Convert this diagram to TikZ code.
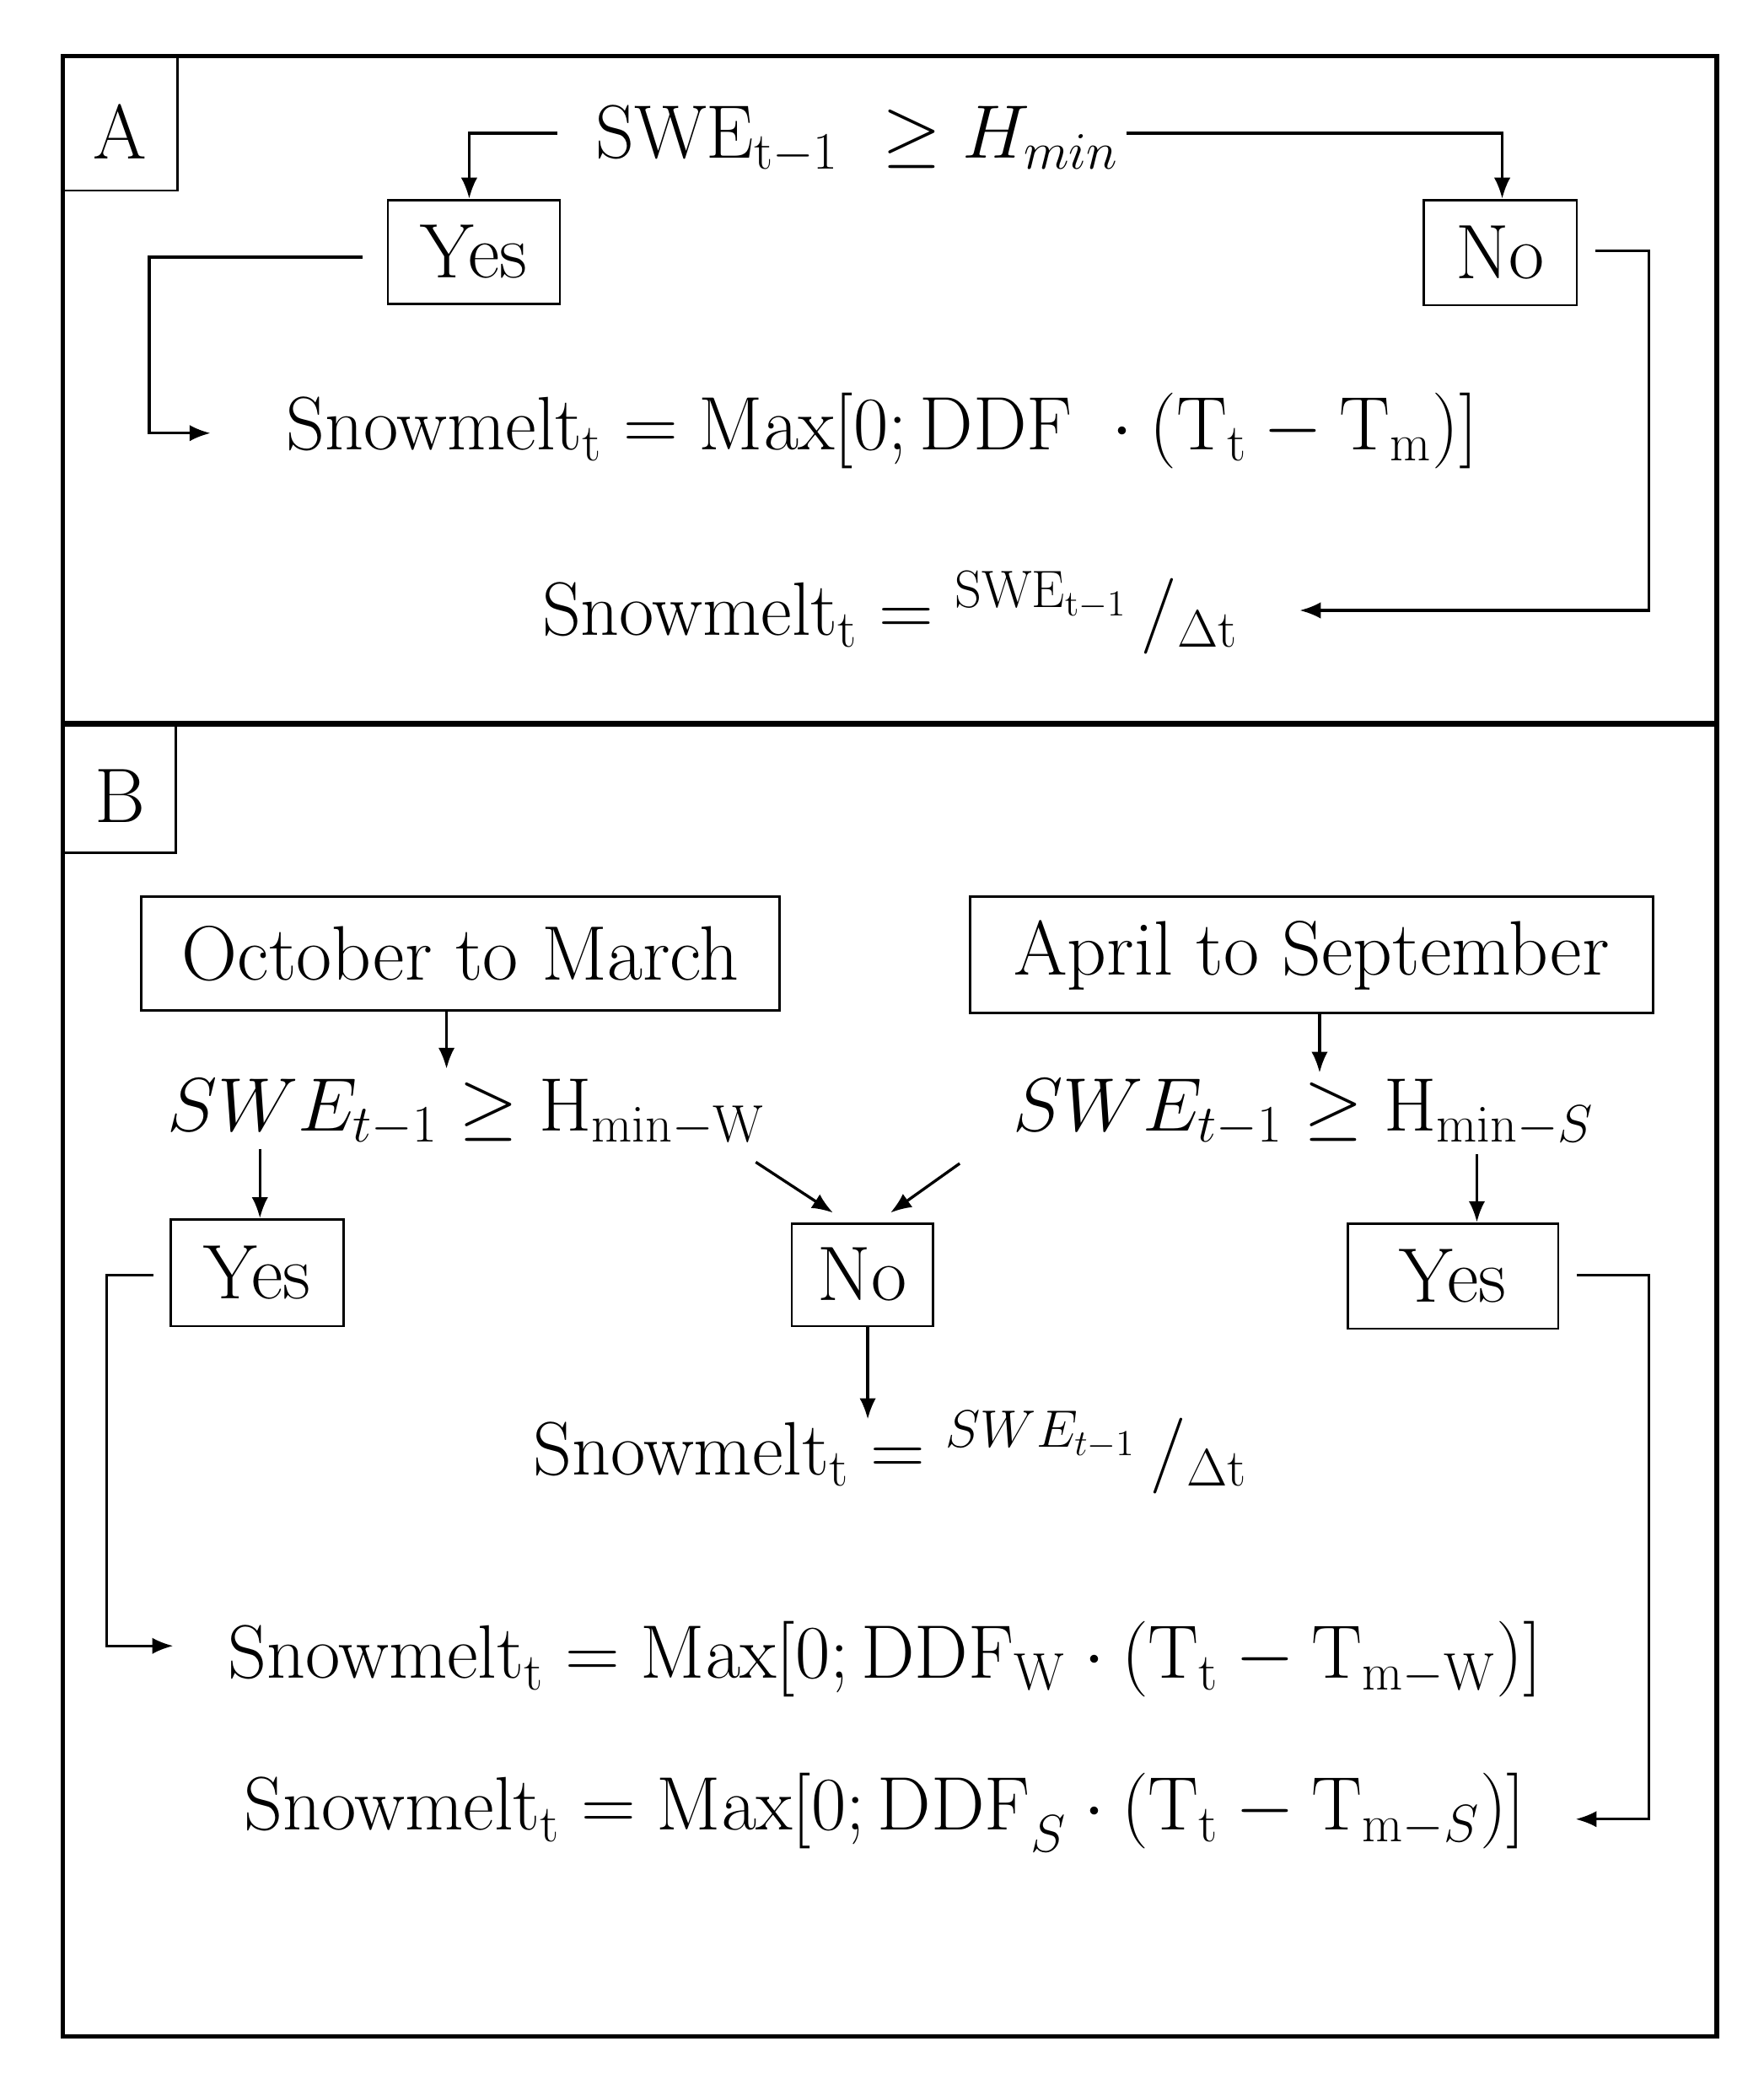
\documentclass[tikz,border=0pt]{standalone}
\usetikzlibrary{arrows.meta}
\begin{document}
\begin{tikzpicture}[x=0.02cm,y=-0.02cm,
  every node/.style={font=\fontsize{33}{40}\selectfont},
  eq/.style={font=\fontsize{24}{29}\selectfont,scale=1.3,transform shape},
  box/.style={draw,line width=1pt,inner sep=0pt},
  ln/.style={line width=1.2pt},
  ar/.style={ln,-{Latex[length=9pt,width=7pt]}}]
\useasboundingbox (0,0) rectangle (1323,1560);
\draw[line width=2pt] (47,42) rectangle (1288,1528);
\draw[line width=2.5pt] (47,543) -- (1288,543);
\draw[line width=1pt] (47,143) -- (133,143) -- (133,42);
\node (la) at (90,99) {A};
\draw[line width=1pt] (47,640) -- (132,640) -- (132,543);
\node (lb) at (90,597) {B};
% Panel A
\node[eq] (c1) at (643,105) {$\mathrm{SWE}_{\mathrm{t-1}}\ \geq H_{min}$};
\node[box,minimum width=129*0.02cm,minimum height=78*0.02cm] (y1) at (355.5,189) {Yes};
\node[box,minimum width=115*0.02cm,minimum height=79*0.02cm] (n1) at (1125.5,189.5) {No};
\node[eq] (e1) at (662,323) {$\mathrm{Snowmelt_t} = \mathrm{Max[0;DDF}\ \cdot (\mathrm{T_t}-\mathrm{T_m})]$};
\node[eq] (e2) at (668,460) {$\mathrm{Snowmelt_t} = {}^{\mathrm{SWE_{t-1}}}\,/_{\Delta\mathrm{t}}$};
\coordinate (a1) at (418,100);
\coordinate (a2) at (845,100);
\draw[ar] (a1) -- (352,100) -- (y1.north -| 352,0);
\draw[ar] (a2) -- (1127,100) -- (n1.north -| 1127,0);
\coordinate (a3) at (272,193);
\draw[ar] (a3) -- (112,193) -- (112,325) -- (158,325);
\coordinate (a4) at (1197,188);
\draw[ar] (a4) -- (1237,188) -- (1237,458) -- (975,458);
% Panel B
\node[box,minimum width=479*0.02cm,minimum height=85*0.02cm] (oc) at (345.5,715.5) {October to March};
\node[box,minimum width=512*0.02cm,minimum height=87*0.02cm] (ap) at (984,716.5) {April to September};
\node[eq] (cw) at (350,835) {$SWE_{t-1} \geq \mathrm{H_{min-W}}$};
\node[eq] (cs) at (978,835) {$SWE_{t-1} \geq \mathrm{H}_{\mathrm{min-}S}$};
\node[box,minimum width=130*0.02cm,minimum height=80*0.02cm] (y2) at (193,955) {Yes};
\node[box,minimum width=106*0.02cm,minimum height=77*0.02cm] (n2) at (647,956.5) {No};
\node[box,minimum width=158*0.02cm,minimum height=79*0.02cm] (y3) at (1090,957.5) {Yes};
\node[eq] (e3) at (668,1090) {$\mathrm{Snowmelt_t} = {}^{SWE_{t-1}}\,/_{\Delta\mathrm{t}}$};
\node[eq] (e4) at (664,1245) {$\mathrm{Snowmelt_t} = \mathrm{Max[0;DDF_W}\cdot (\mathrm{T_t}-\mathrm{T_{m-W}})]$};
\node[eq] (e5) at (664,1360) {$\mathrm{Snowmelt_t} = \mathrm{Max[0;DDF}_S\cdot (\mathrm{T_t}-\mathrm{T}_{\mathrm{m-}S})]$};
\draw[ar] (oc.south -| 335,0) -- (335,802);
\draw[ar] (ap.south -| 990,0) -- (990,805);
\draw[ar] (195,862) -- (y2.north -| 195,0);
\draw[ar] (1108,866) -- (y3.north -| 1108,0);
\draw[ar] (567,872) -- (625,910);
\draw[ar] (720,873) -- (668,910);
\draw[ar] (n2.south -| 651,0) -- (651,1065);
\coordinate (b1) at (115,957);
\draw[ar] (b1) -- (80,957) -- (80,1235) -- (130,1235);
\coordinate (b2) at (1183,957);
\draw[ar] (b2) -- (1237,957) -- (1237,1365) -- (1182,1365);
\end{tikzpicture}
\end{document}
